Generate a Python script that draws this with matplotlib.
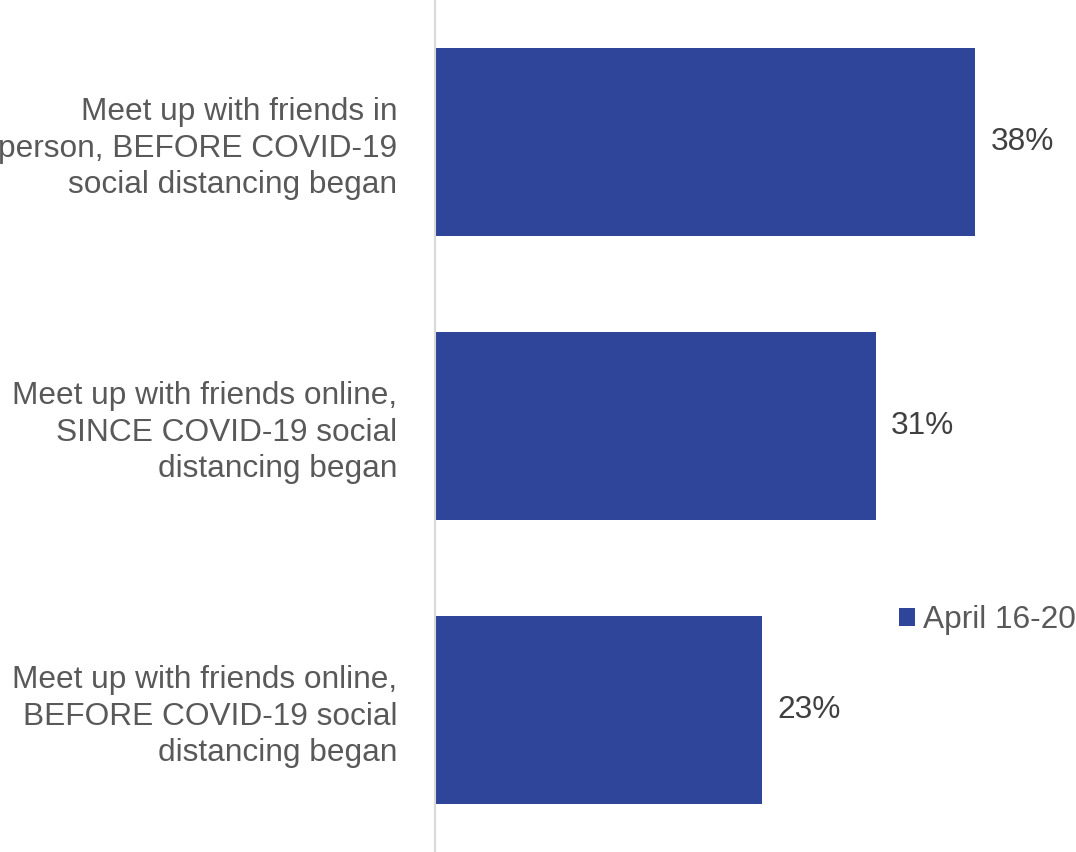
import matplotlib.pyplot as plt

plt.rcParams['font.family'] = ['Liberation Sans', 'DejaVu Sans']

# Datos
categorias = [
    'Meet up with friends in\nperson, BEFORE COVID-19\nsocial distancing began',
    'Meet up with friends online,\nSINCE COVID-19 social\ndistancing began',
    'Meet up with friends online,\nBEFORE COVID-19 social\ndistancing began',
]
valores = [38, 31, 23]
serie = 'April 16-20'

color_barra = '#2f4599'
tam = 22.8

fig = plt.figure(figsize=(10.76, 8.52), dpi=100)
ax = fig.add_axes([435 / 1076, 0.0, 1 - 435 / 1076, 1.0])

posiciones = list(range(len(categorias)))
barras = ax.barh(posiciones, valores, height=0.665, color=color_barra, label=serie)

ax.set_ylim(len(categorias) - 0.5, -0.5)
ax.set_xlim(0, 45.1)

# Etiquetas de valores
for p, v in zip(posiciones, valores):
    ax.text(v + 1.1, p, f'{v}%', va='center', ha='left', fontsize=tam, color='#404040')

ax.set_yticks(posiciones)
ax.set_yticklabels(categorias, fontsize=tam, color='#595959', linespacing=1.28)
ax.tick_params(axis='y', length=0, pad=27)
ax.set_xticks([])

for s in ['top', 'right', 'bottom']:
    ax.spines[s].set_visible(False)
ax.spines['left'].set_color('#d9d9d9')
ax.spines['left'].set_linewidth(1.5)

ax.legend(loc='center left', bbox_to_anchor=(899 / 1076, 1 - 620 / 852),
          bbox_transform=fig.transFigure, frameon=False, fontsize=tam,
          handlelength=0.5, handleheight=0.5, handletextpad=0.25,
          labelcolor='#595959', borderpad=0, borderaxespad=0)

fig.savefig('out.png', dpi=100)
